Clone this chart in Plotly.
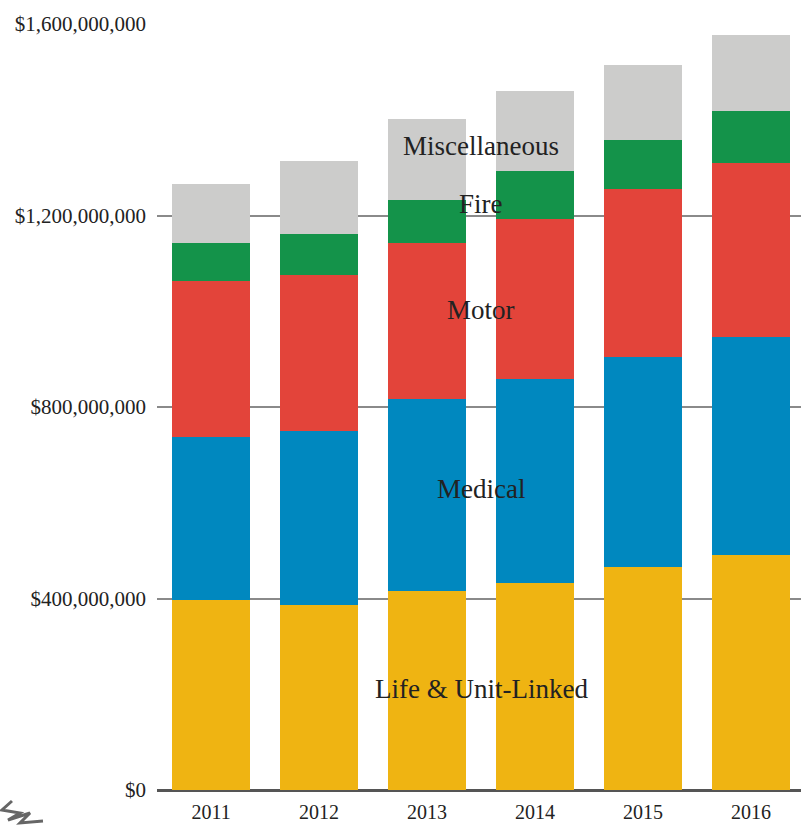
import plotly.graph_objects as go

years = ["2011", "2012", "2013", "2014", "2015", "2016"]
life = [397e6, 386e6, 416e6, 432e6, 466e6, 491e6]
medical = [340e6, 364e6, 401e6, 426e6, 439e6, 455e6]
motor = [326e6, 326e6, 326e6, 334e6, 351e6, 364e6]
fire = [79e6, 86e6, 90e6, 102e6, 102e6, 109e6]
misc = [123e6, 152e6, 169e6, 167e6, 157e6, 159e6]

series_names = ["Life & Unit-Linked", "Medical", "Motor", "Fire", "Miscellaneous"]
series_values = [life, medical, motor, fire, misc]
series_colors = ["#EFB412", "#0088BF", "#E3443A", "#14934A", "#CCCCCB"]

label_y = [211e6, 629e6, 1003e6, 1224e6, 1345e6]

tick_vals = [0, 400e6, 800e6, 1200e6, 1600e6]
tick_text = ["$0", "$400,000,000", "$800,000,000", "$1,200,000,000", "$1,600,000,000"]

FONT = "Liberation Serif"

fig = go.Figure()
for name, vals, col in zip(series_names, series_values, series_colors):
    fig.add_trace(go.Bar(x=years, y=vals, name=name, marker=dict(color=col, line=dict(width=0)),
                         hoverinfo="x+y+name"))

for name, ly in zip(series_names, label_y):
    fig.add_annotation(x=2.5, y=ly, xref="x", yref="y", text=name, showarrow=False,
                       font=dict(family=FONT, size=27, color="#222222"))

# decorative scribble at bottom-left
fig.add_shape(type="path", xref="paper", yref="paper", xsizemode="pixel", ysizemode="pixel",
              xanchor=0, yanchor=0,
              path="M -145,-11 L -155,-20 L -137,-23 L -149,-30 L -127,-23 L -137,-33 L -114,-31",
              line=dict(color="#666666", width=3))

fig.update_layout(
    barmode="stack",
    bargap=0.278,
    width=801, height=825,
    margin=dict(l=157, r=0, t=24, b=35),
    paper_bgcolor="white", plot_bgcolor="white",
    showlegend=False,
    font=dict(family=FONT, size=21, color="#222222"),
    xaxis=dict(range=[-0.5, 5.463], showgrid=False, showline=False, ticks="", automargin=False,
               tickfont=dict(family=FONT, size=20, color="#222222"), ticklabelstandoff=8),
    yaxis=dict(range=[0, 1.6e9], tickvals=tick_vals, ticktext=tick_text, showgrid=True,
               automargin=False,
               gridcolor="#8a8a8a", gridwidth=1.5, zeroline=True, zerolinecolor="#555555",
               zerolinewidth=3, showline=False, ticks="",
               tickfont=dict(family=FONT, size=21, color="#222222"), ticklabelstandoff=10),
)

fig.write_html("out.html")
